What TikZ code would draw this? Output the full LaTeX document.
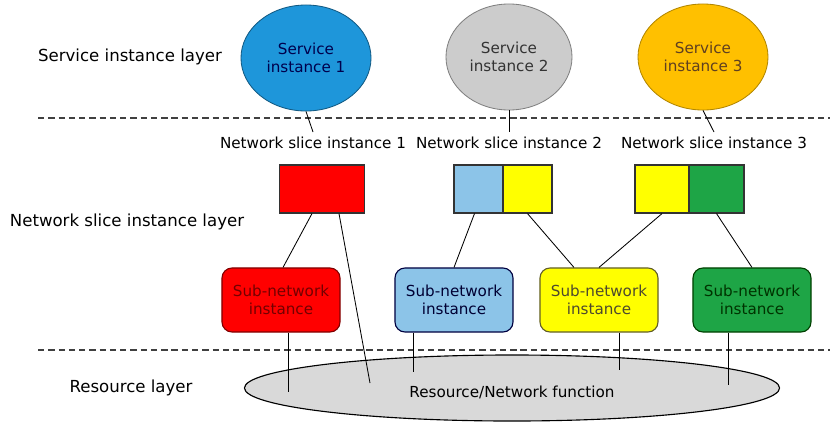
\documentclass[tikz,border=0pt]{standalone}
\usepackage{fontspec}
\setmainfont{DejaVu Sans}
\usepackage{tikz}
\usetikzlibrary{shapes}
\definecolor{svcblue}{RGB}{30,150,218}
\definecolor{svcgray}{RGB}{204,204,204}
\definecolor{svcorange}{RGB}{255,192,0}
\definecolor{slred}{RGB}{255,0,0}
\definecolor{slblue}{RGB}{140,196,232}
\definecolor{slyellow}{RGB}{255,255,0}
\definecolor{slgreen}{RGB}{30,165,70}
\tikzstyle{service}=[ellipse,draw,line width=0.6pt,align=center,minimum width=3.25cm,minimum height=2.65cm,inner sep=1pt]
\tikzstyle{slice}=[rectangle,draw=black!80,line width=0.8pt,minimum height=1.2cm,inner sep=0pt]
\tikzstyle{subnet}=[rectangle,rounded corners=0.25cm,draw,line width=0.8pt,align=center,minimum width=2.95cm,minimum height=1.6cm]

\begin{document}
\begin{tikzpicture}[x=0.025cm,y=-0.025cm,font=\fontsize{10.8}{12.5}\selectfont,line width=0.6pt]
    \useasboundingbox (0,0) rectangle (830,423);
    \tikzstyle{layer}=[dashed,line width=1pt,dash pattern=on 4.5pt off 2.8pt,black!75]
    \tikzstyle{layername}=[font=\fontsize{11.8}{14}\selectfont]

    \draw[layer] (38,118) -- (830,118);
    \draw[layer] (38,350) -- (830,350);

    \node[layername] (LS) at (130,57)  {Service instance layer};
    \node[layername] (LN) at (127,222) {Network slice instance layer};
    \node[layername] (LR) at (131,388) {Resource layer};

    \node[service,fill=svcblue,draw=svcblue!60!black,text=blue!30!black] (S1) at (306,58) {Service\\instance 1};
    \node[service,fill=svcgray,draw=gray,text=black!80,minimum width=3.15cm] (S2) at (509,57) {Service\\instance 2};
    \node[service,fill=svcorange,draw=svcorange!70!black,text=brown!50!black] (S3) at (703,57) {Service\\instance 3};

    \node (NS1) at (313,143) {Network slice instance 1};
    \node (NS2) at (509,143) {Network slice instance 2};
    \node (NS3) at (714,143) {Network slice instance 3};
    \draw (S1.south) -- (NS1.north);
    \draw (S2.south) -- (NS2.north);
    \draw (S3.south) -- (NS3.north);

    \node[slice,fill=slred,minimum width=2.125cm] (R1) at (322,189) {};
    \node[slice,fill=slblue,minimum width=1.225cm] (B2) at (478.5,189) {};
    \node[slice,fill=slyellow,minimum width=1.225cm] (Y2) at (527.5,189) {};
    \node[slice,fill=slyellow,minimum width=1.35cm] (Y3) at (662,189) {};
    \node[slice,fill=slgreen,minimum width=1.375cm] (G3) at (716.5,189) {};

    \node[subnet,fill=slred,draw=red!50!black,text=red!45!black] (SN1) at (281,300) {Sub-network\\instance};
    \node[subnet,fill=slblue,draw=blue!25!black,text=blue!20!black] (SN2) at (454,300) {Sub-network\\instance};
    \node[subnet,fill=slyellow,draw=olive!60!black,text=olive!40!black] (SN3) at (599,300) {Sub-network\\instance};
    \node[subnet,fill=slgreen,draw=green!25!black,text=green!20!black] (SN4) at (752,300) {Sub-network\\instance};

    \node[ellipse,draw,fill=black!15,line width=0.8pt,minimum width=13.375cm,minimum height=1.65cm] (RF) at (512,388) {};
    \node (RFT) at (512,392) {Resource/Network function};

    \coordinate (F1) at (370,383);
    \coordinate (F2) at (288,392);
    \coordinate (F3) at (413,372);
    \coordinate (F4) at (619,370);
    \coordinate (F5) at (728,385);

    \draw ([xshift=-0.25cm]R1.south) -- ([xshift=0.05cm]SN1.north);
    \draw ([xshift=0.425cm]R1.south) -- (F1);
    \draw ([xshift=-0.1cm]B2.south) -- (SN2.north);
    \draw (Y2.south) -- ([xshift=-0.625cm]SN3.north);
    \draw (Y3.south) -- (SN3.north);
    \draw (G3.south) -- (SN4.north);

    \draw (F2 |- SN1.south) -- (F2);
    \draw (F3 |- SN2.south) -- (F3);
    \draw (F4 |- SN3.south) -- (F4);
    \draw (F5 |- SN4.south) -- (F5);

  \end{tikzpicture}
\end{document}
